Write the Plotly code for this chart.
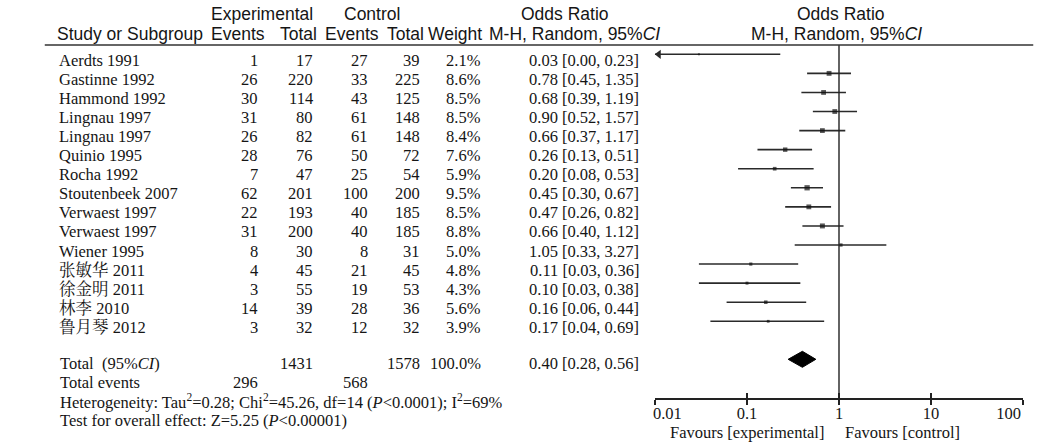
import plotly.graph_objects as go

# ---------------- data ----------------
studies = ["Aerdts 1991", "Gastinne 1992", "Hammond 1992", "Lingnau 1997", "Lingnau 1997",
           "Quinio 1995", "Rocha 1992", "Stoutenbeek 2007", "Verwaest 1997", "Verwaest 1997",
           "Wiener 1995", "张敏华 2011", "徐金明 2011", "林李 2010", "鲁月琴 2012"]
exp_events = [1, 26, 30, 31, 26, 28, 7, 62, 22, 31, 8, 4, 3, 14, 3]
exp_total = [17, 220, 114, 80, 82, 76, 47, 201, 193, 200, 30, 45, 55, 39, 32]
ctrl_events = [27, 33, 43, 61, 61, 50, 25, 100, 40, 40, 8, 21, 19, 28, 12]
ctrl_total = [39, 225, 125, 148, 148, 72, 54, 200, 185, 185, 31, 45, 53, 36, 32]
weight = [2.1, 8.6, 8.5, 8.5, 8.4, 7.6, 5.9, 9.5, 8.5, 8.8, 5.0, 4.8, 4.3, 5.6, 3.9]
odds = [0.03, 0.78, 0.68, 0.90, 0.66, 0.26, 0.20, 0.45, 0.47, 0.66, 1.05, 0.11, 0.10, 0.16, 0.17]
ci_low = [0.00, 0.45, 0.39, 0.52, 0.37, 0.13, 0.08, 0.30, 0.26, 0.40, 0.33, 0.03, 0.03, 0.06, 0.04]
ci_high = [0.23, 1.35, 1.19, 1.57, 1.17, 0.51, 0.53, 0.67, 0.82, 1.12, 3.27, 0.36, 0.38, 0.44, 0.69]

total_exp = 1431
total_ctrl = 1578
total_weight = 100.0
total_or, total_lo, total_hi = 0.40, 0.28, 0.56
total_exp_events = 296
total_ctrl_events = 568
heterogeneity = "Heterogeneity: Tau<sup>2</sup>=0.28; Chi<sup>2</sup>=45.26, df=14 (<i>P</i>&lt;0.0001); I<sup>2</sup>=69%"
overall = "Test for overall effect: Z=5.25 (<i>P</i>&lt;0.00001)"

tick_vals = [0.01, 0.1, 1, 10, 100]
tick_labels = ["0.01", "0.1", "1", "10", "100"]

# ---------------- layout geometry ----------------
W, H = 1061, 444
PL, PR = 655, 1050          # plot area (pixels)
TOP, AXY = 45, 398
LOGMIN, LOGMAX = -2, 2

SANS = "Liberation Sans, Arial, sans-serif"
SERIF = "Liberation Serif, Times New Roman, Noto Serif CJK SC, Noto Sans CJK SC, serif"
INK = "#151515"
FS = 16.5


def px(x):
    return (x - PL) / (PR - PL)


def py(y):
    return (AXY - y) / (AXY - TOP)


n = len(studies)
row_y = [54.3 + 19.07 * i for i in range(n)]
text_dy = 6

fig = go.Figure()

# CI lines
xs, ys = [], []
axis_min = 10 ** LOGMIN
for lo, hi, y in zip(ci_low, ci_high, row_y):
    xs += [max(lo, axis_min), hi, None]
    ys += [y, y, None]
fig.add_trace(go.Scatter(x=xs, y=ys, mode="lines", line=dict(color="#2a2a2a", width=1.6),
                         hoverinfo="skip", cliponaxis=False, showlegend=False))

# arrows for CIs cut at the axis minimum
arr_x = [axis_min * 10 ** (4 / (PR - PL) * (LOGMAX - LOGMIN)) for lo in ci_low if lo < axis_min]
arr_y = [y for lo, y in zip(ci_low, row_y) if lo < axis_min]
fig.add_trace(go.Scatter(x=arr_x, y=arr_y, mode="markers",
                         marker=dict(symbol="triangle-left", size=8, color="#2a2a2a"),
                         hoverinfo="skip", cliponaxis=False, showlegend=False))

# point estimates
fig.add_trace(go.Scatter(x=odds, y=row_y, mode="markers",
                         marker=dict(symbol="square", size=[1 + 0.45 * w for w in weight],
                                     color="#111111", line=dict(width=0)),
                         hoverinfo="skip", cliponaxis=False, showlegend=False))

# pooled diamond
dy = 359.3
fig.add_trace(go.Scatter(x=[total_lo, total_or, total_hi, total_or, total_lo],
                         y=[dy, dy - 8, dy, dy + 8, dy], mode="lines", fill="toself",
                         fillcolor="#000000", line=dict(color="#000000", width=1),
                         hoverinfo="skip", showlegend=False))

# line of no effect
fig.add_trace(go.Scatter(x=[1, 1], y=[TOP, AXY], mode="lines",
                         line=dict(color="#222222", width=1.4), hoverinfo="skip",
                         cliponaxis=False, showlegend=False))

# dummy trace for the second (inside-tick) axis
fig.add_trace(go.Scatter(x=[1], y=[AXY], xaxis="x2", mode="markers",
                         marker=dict(opacity=0), hoverinfo="skip", showlegend=False))

ann = []


def T(x, y, text, anchor="left", font=SERIF, size=FS):
    ann.append(dict(x=px(x), y=py(y), xref="paper", yref="paper", text=text, showarrow=False,
                    xanchor=anchor, yanchor="middle",
                    font=dict(family=font, size=size, color=INK)))


# headers
HS = 17.5
T(233.5, 14.5, "Experimental", "center", SANS, HS)
T(351, 14.5, "Control", "center", SANS, HS)
T(558, 14.5, "Odds Ratio", "center", SANS, HS)
T(855, 14.5, "Odds Ratio", "center", SANS, HS)
T(11, 34, "Study or Subgroup", "left", SANS, HS)
T(238, 34, "Events", "right", SANS, HS)
T(294, 34, "Total", "right", SANS, HS)
T(361, 34, "Events", "right", SANS, HS)
T(409, 34, "Total", "right", SANS, HS)
T(471, 34, "Weight", "right", SANS, HS)
T(663, 34, "M-H, Random, 95%<i>CI</i>", "right", SANS, HS)
T(850, 34, "M-H, Random, 95%<i>CI</i>", "center", SANS, HS)

# table rows
for i in range(n):
    y = row_y[i] + text_dy
    T(13, y, studies[i])
    T(231, y, str(exp_events[i]), "right")
    T(290, y, str(exp_total[i]), "right")
    T(349, y, str(ctrl_events[i]), "right")
    T(405, y, str(ctrl_total[i]), "right")
    T(470, y, f"{weight[i]:.1f}%", "right")
    T(640, y, f"{odds[i]:.2f} [{ci_low[i]:.2f}, {ci_high[i]:.2f}]", "right")

# totals
yt = 363.5
T(14, yt, "Total  (95%<i>CI</i>)")
T(290, yt, str(total_exp), "right")
T(405, yt, str(total_ctrl), "right")
T(470, yt, f"{total_weight:.1f}%", "right")
T(640, yt, f"{total_or:.2f} [{total_lo:.2f}, {total_hi:.2f}]", "right")
T(14, yt + 19, "Total events")
T(231, yt + 19, str(total_exp_events), "right")
T(349, yt + 19, str(total_ctrl_events), "right")
T(14, yt + 38, heterogeneity)
T(14, yt + 57, overall)

# favours labels
T(839, 432, "Favours [experimental]", "right")
T(857, 432, "Favours [control]", "left")

shapes = [dict(type="line", xref="paper", yref="paper", x0=px(0), x1=px(W), y0=py(TOP), y1=py(TOP),
               line=dict(color="#333333", width=1.6))]

nb = "\u00a0"
ticktext = list(tick_labels)
ticktext[0] = nb * 6 + ticktext[0]
ticktext[-1] = ticktext[-1] + nb * 7

fig.update_layout(
    width=W, height=H,
    margin=dict(l=PL, r=W - PR, t=TOP, b=H - AXY, pad=0),
    paper_bgcolor="white", plot_bgcolor="white",
    xaxis=dict(type="log", range=[LOGMIN, LOGMAX], tickvals=tick_vals, ticktext=ticktext,
               ticks="outside", ticklen=5, tickwidth=1.6, tickcolor="#222222",
               showline=True, linecolor="#222222", linewidth=1.6, showgrid=False,
               zeroline=False, tickfont=dict(family=SERIF, size=FS, color=INK),
               ticklabelstandoff=-6, ticklabeloverflow="allow", fixedrange=True),
    xaxis2=dict(type="log", range=[LOGMIN, LOGMAX], overlaying="x", side="bottom",
                anchor="y", tickvals=tick_vals, ticks="inside", ticklen=5, tickwidth=1.6,
                tickcolor="#222222", showticklabels=False, showline=False,
                showgrid=False, zeroline=False),
    yaxis=dict(range=[AXY, TOP], visible=False, fixedrange=True),
    annotations=ann, shapes=shapes, showlegend=False,
)

fig.write_html("out.html", config={"displayModeBar": False},
               post_script="document.body.style.margin='0';document.body.style.overflow='hidden';")
